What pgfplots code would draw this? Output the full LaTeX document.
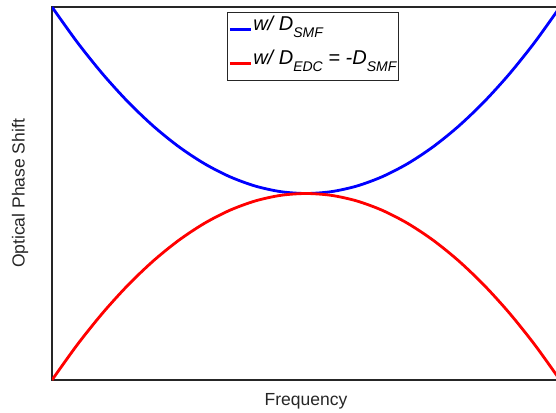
\documentclass[border=0pt]{standalone}
\usepackage{pgfplots}
\pgfplotsset{compat=1.18}
\usepackage{fontspec}
\setmainfont{Liberation Sans}
\definecolor{axgray}{RGB}{38,38,38}
\newcommand{\sub}[1]{\raisebox{-7bp}{\fontsize{14bp}{14bp}\selectfont #1}}
\begin{document}
\fontsize{17.5bp}{20bp}\selectfont
\begin{tikzpicture}
\begin{axis}[
  scale only axis, width=508bp, height=373bp,
  xmin=-1, xmax=1, ymin=0, ymax=1,
  xtick=\empty, ytick=\empty,
  axis line style={axgray, line width=2.6bp},
  xlabel={Frequency}, ylabel={Optical Phase Shift},
  label style={text=axgray},
  xlabel style={at={(axis description cs:0.5,0)}, anchor=center, yshift=-21bp},
  ylabel style={at={(axis description cs:0,0.5)}, anchor=center, rotate=0, yshift=32bp},
  legend style={at={(axis description cs:0.5,1)}, anchor=north, yshift=-5bp, xshift=7bp,
    draw=axgray, line width=1.4bp, inner xsep=1bp, inner ysep=0bp, row sep=0bp,
    font=\fontsize{20bp}{24bp}\selectfont\itshape,
    nodes={text height=16bp, text depth=14bp, inner xsep=1bp}},
  legend cell align=left,
  legend image code/.code={\draw[#1, line width=2.6bp] (0bp,0bp) -- (21bp,0bp);},
]
\addplot[blue, line width=2.8bp, smooth] coordinates {
(-1,1.0) (-0.9,0.905) (-0.8,0.82) (-0.7,0.745) (-0.6,0.68) (-0.5,0.625) (-0.4,0.58) (-0.3,0.545) (-0.2,0.52) (-0.1,0.505) (0,0.5)
(0.1,0.505) (0.2,0.52) (0.3,0.545) (0.4,0.58) (0.5,0.625) (0.6,0.68) (0.7,0.745) (0.8,0.82) (0.9,0.905) (1,1.0)};
\addlegendentry{w/ D\sub{SMF}}
\addplot[red, line width=2.8bp, smooth] coordinates {
(-1,0.0) (-0.9,0.095) (-0.8,0.18) (-0.7,0.255) (-0.6,0.32) (-0.5,0.375) (-0.4,0.42) (-0.3,0.455) (-0.2,0.48) (-0.1,0.495) (0,0.5)
(0.1,0.495) (0.2,0.48) (0.3,0.455) (0.4,0.42) (0.5,0.375) (0.6,0.32) (0.7,0.255) (0.8,0.18) (0.9,0.095) (1,0.0)};
\addlegendentry{w/ D\sub{EDC} = -D\sub{SMF}}
\end{axis}
\pgfresetboundingbox
\path (-52bp,-33bp) rectangle (504bp,380bp);
\end{tikzpicture}
\end{document}
